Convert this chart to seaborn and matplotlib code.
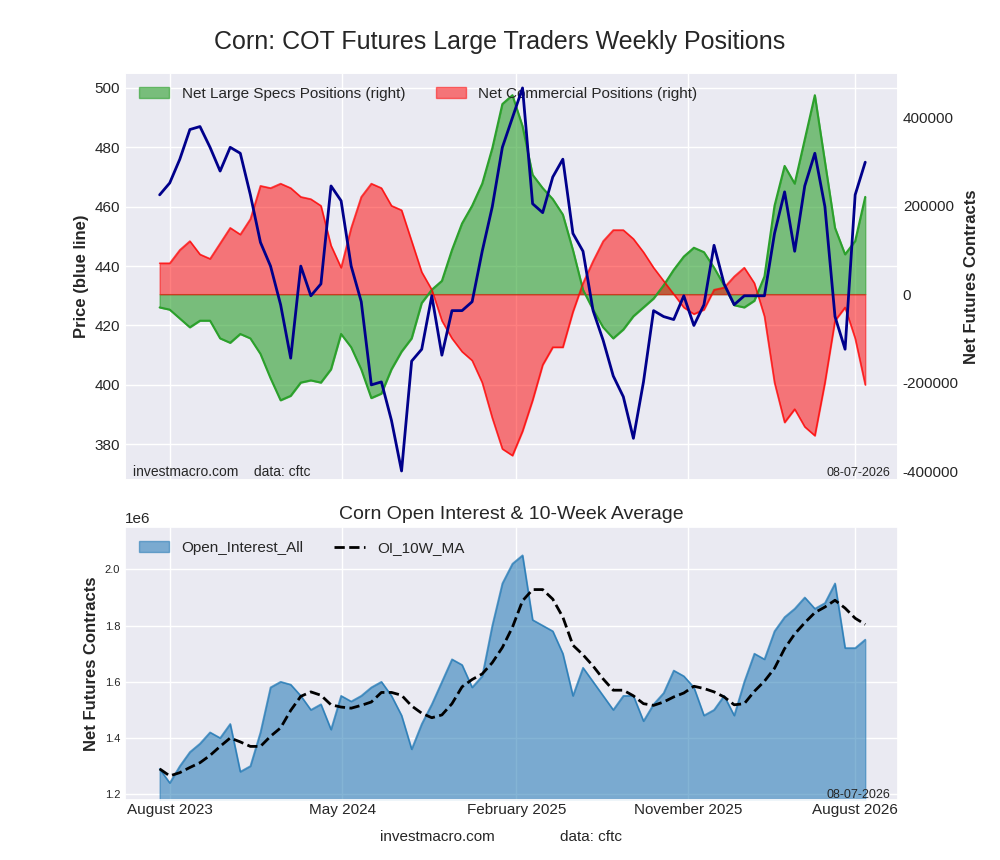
import matplotlib
matplotlib.use("Agg")
import matplotlib.pyplot as plt
import matplotlib.dates as mdates
import seaborn as sns
import pandas as pd
import numpy as np

sns.set_theme(style="darkgrid")
plt.rcParams['font.family'] = ['Arial', 'Liberation Sans', 'DejaVu Sans']

price = [464,468,476,486,487,480,472,480,478,464,448,440,427,409,440,430,434,467,462,440,
         428,400,401,388,371,408,412,430,410,425,425,428,445,460,480,490,500,461,458,470,
         476,451,445,425,415,403,396,382,401,425,423,422,430,420,427,447,434,427,430,430,
         430,451,465,445,467,478,460,423,412,464,475]
specs_k = [-30,-35,-55,-75,-60,-60,-100,-110,-90,-100,-135,-190,-240,-230,-200,-195,-200,-170,-90,-120,
           -170,-235,-225,-170,-130,-100,-20,10,30,100,160,200,250,330,430,450,380,270,240,215,
           180,100,10,-35,-75,-100,-80,-50,-30,-10,20,55,85,105,95,60,20,-25,-30,-15,
           40,200,290,250,350,450,300,150,90,120,220]
comm_k = [70,70,100,120,90,80,115,150,135,170,245,240,250,240,220,215,200,110,60,150,
          220,250,240,200,190,120,50,10,-60,-100,-130,-150,-200,-280,-350,-365,-310,-240,-160,-120,
          -120,-40,25,75,120,145,145,125,95,60,30,0,-30,-45,-35,10,15,40,60,25,
          -50,-200,-290,-260,-300,-320,-200,-60,-30,-100,-205]
oi_m = [1.29,1.24,1.30,1.35,1.38,1.42,1.40,1.45,1.28,1.30,1.42,1.58,1.60,1.59,1.55,1.50,1.52,1.43,1.55,1.53,
        1.55,1.58,1.60,1.55,1.48,1.36,1.45,1.52,1.60,1.68,1.66,1.58,1.62,1.80,1.95,2.02,2.05,1.82,1.80,1.78,
        1.70,1.55,1.65,1.60,1.55,1.50,1.55,1.55,1.46,1.52,1.56,1.64,1.62,1.58,1.48,1.50,1.55,1.48,1.60,1.70,
        1.68,1.78,1.83,1.86,1.90,1.86,1.88,1.95,1.72,1.72,1.75]

n = len(price)
dates = pd.date_range("2023-07-16", periods=n, freq="16D")
df = pd.DataFrame({"date": dates, "price": price,
                   "specs": np.array(specs_k) * 1000.0,
                   "comm": np.array(comm_k) * 1000.0,
                   "oi": np.array(oi_m) * 1e6})
df["ma"] = df["oi"].rolling(5, min_periods=1).mean()

fig = plt.figure(figsize=(10, 8.6), dpi=100)
ax1 = fig.add_axes([0.125, 0.442, 0.773, 0.473])
ax2 = ax1.twinx()
axp = ax1.twinx()
ax3 = fig.add_axes([0.125, 0.070, 0.773, 0.317], sharex=ax1)

fig.suptitle("Corn: COT Futures Large Traders Weekly Positions", fontsize=18, y=0.965)

ax2.fill_between(df["date"], 0, df["specs"], color="#2ca02c", alpha=0.6,
                 label="Net Large Specs Positions (right)")
ax2.plot(df["date"], df["specs"], color="#2ca02c", lw=1.5)
ax2.fill_between(df["date"], 0, df["comm"], color="red", alpha=0.5,
                 label="Net Commercial Positions (right)")
ax2.plot(df["date"], df["comm"], color="red", lw=1.2, alpha=0.7)
ax2.set_ylim(-420000, 500000)
ax2.set_yticks([-400000, -200000, 0, 200000, 400000])
ax2.set_yticklabels(["-400000", "-200000", "0", "200000", "400000"])
ax2.set_ylabel("Net Futures Contracts", fontweight="bold")
ax2.grid(False)
ax2.tick_params(length=0)
ax2.legend(loc="upper left", ncol=2, fontsize=11, frameon=False)

ylim_p = (368, 505)
ax1.set_ylim(*ylim_p)
ax1.set_ylabel("Price (blue line)", fontweight="bold")
ax1.tick_params(labelbottom=False, length=0)
sns.lineplot(data=df, x="date", y="price", ax=axp, color="darkblue", lw=2)
axp.set_ylim(*ylim_p)
axp.set_yticks([])
axp.set_ylabel("")
axp.set_xlabel("")
axp.grid(False)
ax1.set_xlabel("")
ax1.text(0.01, 0.01, "investmacro.com    data: cftc", transform=ax1.transAxes, fontsize=10)
ax1.text(0.99, 0.01, "08-07-2026", transform=ax1.transAxes, fontsize=9, ha="right")

ax3.fill_between(df["date"], 0, df["oi"], color="#1f77b4", alpha=0.55, label="Open_Interest_All")
ax3.plot(df["date"], df["oi"], color="#1f77b4", lw=1.2, alpha=0.7)
sns.lineplot(data=df, x="date", y="ma", ax=ax3, color="black", lw=2, linestyle="--", label="OI_10W_MA")
ax3.set_ylim(1.18e6, 2.15e6)
ax3.set_title("Corn Open Interest & 10-Week Average", fontsize=14)
ax3.set_ylabel("Net Futures Contracts", fontweight="bold")
ax3.set_xlabel("")
ax3.tick_params(axis="y", labelsize=8, length=0)
ax3.tick_params(axis="x", labelsize=11, length=0, pad=2)
ax3.legend(loc="upper left", ncol=2, fontsize=11, frameon=False)
ax3.text(0.99, 0.005, "08-07-2026", transform=ax3.transAxes, fontsize=9, ha="right")
ticks = pd.to_datetime(["2023-08-01", "2024-05-01", "2025-02-01", "2025-11-01", "2026-07-24"])
ax3.set_xticks(ticks)
ax3.set_xticklabels(["August 2023", "May 2024", "February 2025", "November 2025", "August 2026"])
ax3.set_xlim(pd.Timestamp("2023-05-22"), pd.Timestamp("2026-09-30"))
fig.text(0.38, 0.022, "investmacro.com", fontsize=11)
fig.text(0.56, 0.022, "data: cftc", fontsize=11)

fig.savefig("out.png", dpi=100)
